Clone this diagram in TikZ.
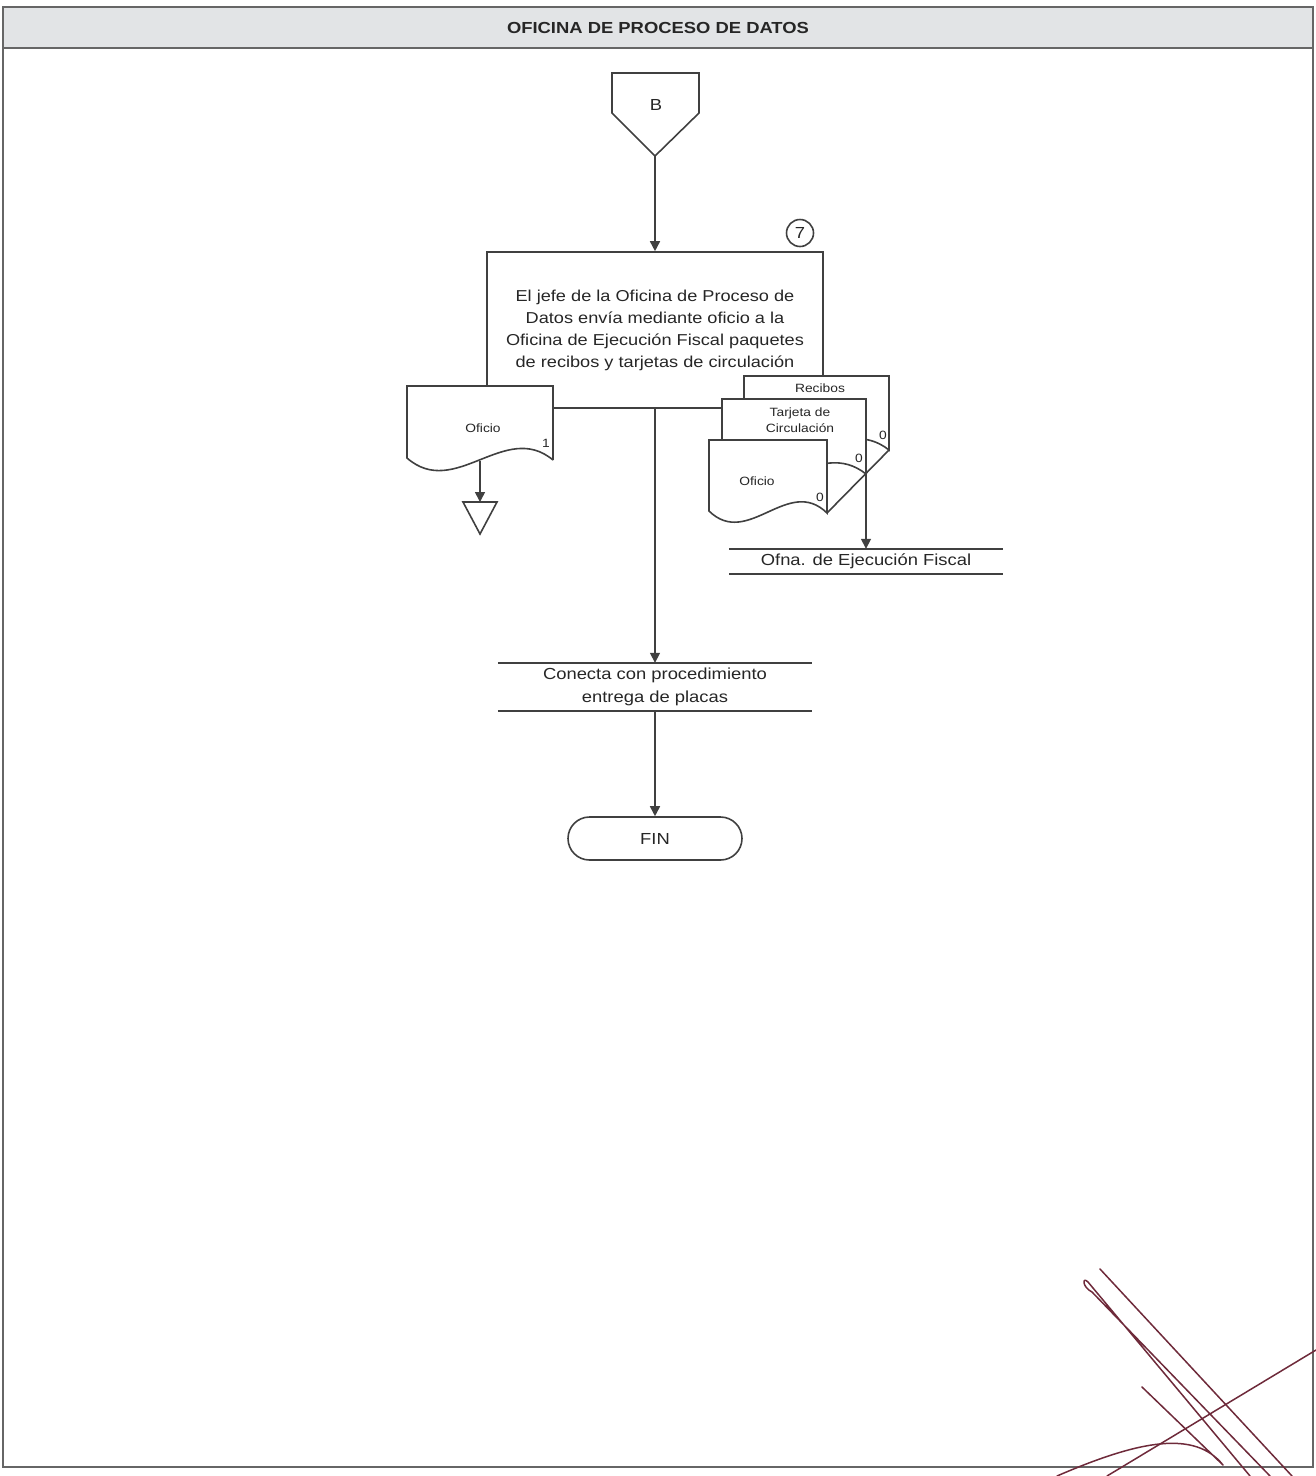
\documentclass[tikz,border=0pt]{standalone}
\usepackage{fontspec}
\setmainfont{Liberation Sans}[FakeStretch=1.15]
\usetikzlibrary{positioning,arrows.meta,shapes.misc}

\begin{document}
\begin{tikzpicture}[
  x=1pt, y=-1pt,
  >={Triangle[length=10pt,width=10pt]},
  every node/.style={inner sep=1pt, text=txtc},
  strk/.style={draw=linec, line width=1.6pt},
  docu/.style={strk, fill=white},
  flow/.style={strk, ->},
  frame/.style={draw=framec, line width=1.5pt},
  small/.style={font=\fontsize{12}{14}\selectfont},
  big/.style={font=\fontsize{16}{23}\selectfont},
  term/.style={strk, rounded rectangle, minimum width=176pt, minimum height=43pt},
  firma/.style={draw=firmac, line width=1.5pt, line cap=round, line join=round}
]
\colorlet{linec}{black!75}
\colorlet{framec}{black!60}
\colorlet{txtc}{black!85}
\definecolor{hdrc}{RGB}{226,228,230}
\definecolor{firmac}{RGB}{110,42,58}

\useasboundingbox (0,0) rectangle (1316,1476);

% Page frame and header
\fill[hdrc] (3,7) rectangle (1313,48);
\draw[frame] (3,7) rectangle (1313,1467);
\draw[frame] (3,48) -- (1313,48);
\node[font=\bfseries\fontsize{16}{18}\selectfont] (hdr) at (658,28) {OFICINA DE PROCESO DE DATOS};

% Off-page connector B
\draw[strk] (612,73) -- (699,73) -- (699,113) -- (655,156) coordinate (Btip) -- (612,113) -- cycle;
\node[big] (B) at (656,105) {B};

% Step 7
\node[strk, align=center, minimum width=336pt, minimum height=156pt,
      font=\fontsize{15.8}{22}\selectfont] (proc) at (655,330)
  {El jefe de la Oficina de Proceso de\\Datos envía mediante oficio a la\\Oficina de Ejecución Fiscal paquetes\\de recibos y tarjetas de circulación};
\node[strk, circle, minimum size=27pt, inner sep=0pt, big] (n7) at (800,233) {7};

% Oficio (copy 1)
\draw[docu] (553,460) -- (553,386) -- (407,386) -- (407,458)
  .. controls (455,500) and (505,420) .. coordinate[pos=0.48] (ofiLbot) (553,460);
\node[small] (ofiL) at (483,428) {Oficio};
\node[small] (ofiLn) at (546,443) {1};
\coordinate (arch) at (480,502);
\draw[strk] (463,502) -- (497,502) -- (480,534) -- cycle;

% Documents sent (stack)
\draw[docu] (744,448) .. controls (792,486) and (841,412) .. (889,450) coordinate (recBR)
  -- (889,376) -- (744,376) -- cycle;
\draw[docu] (722,472) .. controls (770,510) and (818,436) .. (866,474) coordinate (tarBR)
  -- (866,399) -- (722,399) -- cycle;
\draw[docu] (709,511) .. controls (748,549) and (788,475) .. (827,513) coordinate (ofiBR)
  -- (827,440) -- (709,440) -- cycle;
\draw[strk] (recBR) -- (ofiBR);
\node[small] (rec) at (820,388) {Recibos};
\node[small] (recn) at (883,435) {0};
\node[small, align=center, font=\fontsize{12}{16}\selectfont] (tar) at (800,420) {Tarjeta de\\Circulación};
\node[small] (tarn) at (859,458) {0};
\node[small] (ofiR) at (757,481) {Oficio};
\node[small] (ofiRn) at (820,497) {0};

% Destinations
\node[big] (ofna) at (866,561.5) [minimum width=273pt, minimum height=25pt] {Ofna. de Ejecución Fiscal};
\draw[strk] (ofna.north west) -- (ofna.north east);
\draw[strk] (ofna.south west) -- (ofna.south east);
\node[big, align=center] (con) at (655,687) [minimum width=314pt, minimum height=48pt]
  {Conecta con procedimiento\\entrega de placas};
\draw[strk] (con.north west) -- (con.north east);
\draw[strk] (con.south west) -- (con.south east);
\node[term, big] (fin) at (655,838.5) {FIN};

% Arrows
\draw[flow] (Btip) -- (proc.north);
\draw[flow] (proc.south) -- (con.north);
\draw[flow] (con.south) -- (fin.north);
\draw[flow] (arch |- ofiLbot) -- (arch);
\draw[flow] (tarBR) -- (ofna.north);

% Signature
\draw[firma] (1100,1269) -- (1292,1476);
\draw[firma] (1250,1476) -- (1088,1282) .. controls (1082,1276) and (1082,1287) .. (1092,1292) -- (1270,1476);
\draw[firma] (1142,1387) -- (1223,1465) .. controls (1195,1430) and (1140,1440) .. (1057,1476);
\draw[firma] (1316,1350) -- (1107,1476);
\end{tikzpicture}
\end{document}
